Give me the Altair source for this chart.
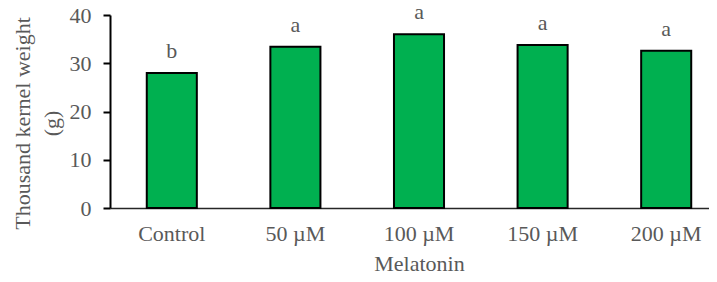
import altair as alt
import pandas as pd

categories = ["Control", "50 µM", "100 µM", "150 µM", "200 µM"]
values = [28.0, 33.4, 36.0, 33.8, 32.6]
letters = ["b", "a", "a", "a", "a"]
y_ticks = [0, 10, 20, 30, 40]

df = pd.DataFrame({"cat": categories, "val": values, "lab": letters})

FONT = "Liberation Serif"
GRAY = "#595959"

x_enc = alt.X(
    "cat:N",
    sort=categories,
    scale=alt.Scale(paddingInner=0.595, paddingOuter=0.2975, range=[0, 618]),
    axis=alt.Axis(
        title="Melatonin",
        labelAngle=0,
        ticks=False,
        tickSize=0,
        labelPadding=15,
        titlePadding=9,
        titleX=309,
        domainColor="#262626",
        domainWidth=1.5,
    ),
)
y_enc = alt.Y(
    "val:Q",
    scale=alt.Scale(domain=[0, 40], nice=False),
    axis=alt.Axis(
        title=["Thousand kernel weight", "(g)"],
        values=y_ticks,
        grid=False,
        tickSize=7,
        tickWidth=2,
        tickColor="black",
        domainColor="black",
        domainWidth=2,
        labelPadding=12,
        titleX=-76,
        titleY=108,
        titleLineHeight=29,
    ),
)

bars = alt.Chart(df).mark_bar(
    color="#00B050", stroke="black", strokeWidth=2
).encode(x=x_enc, y=y_enc)

text = alt.Chart(df).mark_text(
    baseline="alphabetic", dy=-15, font=FONT, fontSize=22, color=GRAY
).encode(x=alt.X("cat:N", sort=categories), y="val:Q", text="lab:N")

chart = (
    alt.layer(bars, text)
    .properties(
        width=599,
        height=193,
        autosize=alt.AutoSizeParams(type="none"),
        padding={"left": 102, "top": 7, "right": 0, "bottom": 66},
    )
    .configure_view(stroke=None)
    .configure_axis(
        labelFont=FONT,
        titleFont=FONT,
        labelFontSize=22,
        titleFontSize=22,
        labelColor=GRAY,
        titleColor=GRAY,
        titleFontWeight="normal",
    )
)

chart.save("out.html", embed_options={"renderer": "svg", "actions": False})
